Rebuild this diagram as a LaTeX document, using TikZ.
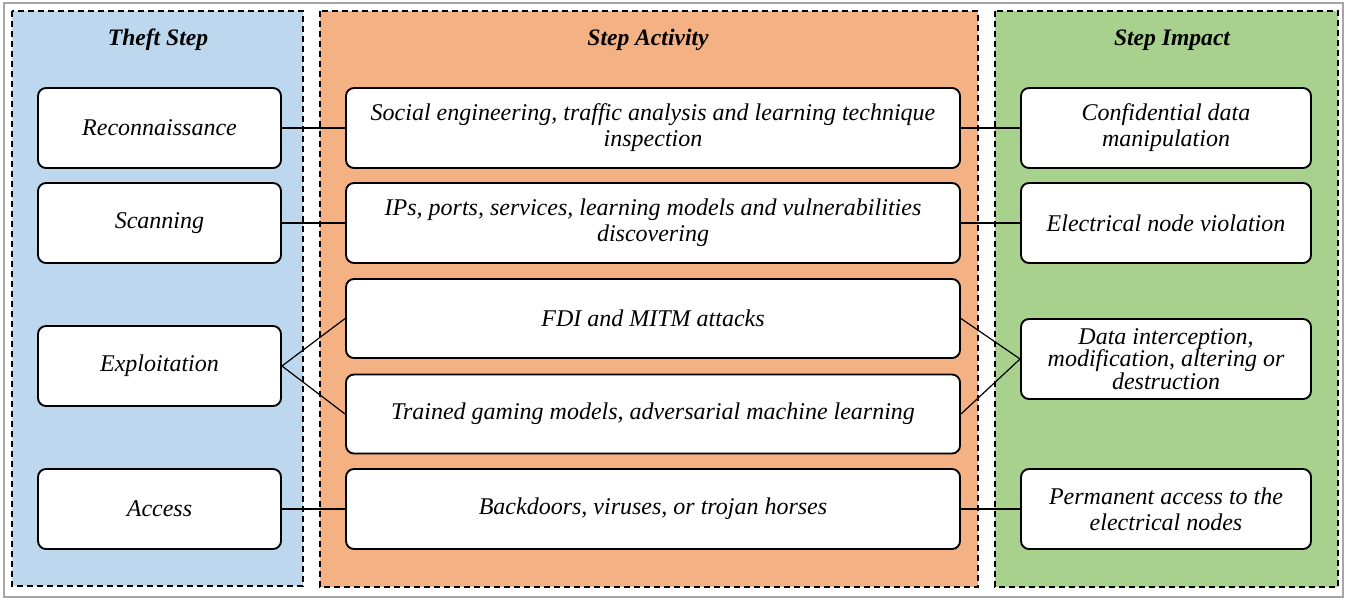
\documentclass[tikz,border=0pt]{standalone}
\usepackage{fontspec}
\setmainfont{Liberation Serif}
\definecolor{pblue}{HTML}{BDD7EE}
\definecolor{porange}{HTML}{F4B183}
\definecolor{pgreen}{HTML}{A9D18E}
\begin{document}
\begin{tikzpicture}[x=0.75pt,y=-0.75pt,
  panel/.style={draw=black,line width=0.9pt,dash pattern=on 4.5pt off 3pt},
  box/.style={draw=black,fill=white,line width=1.4pt,rounded corners=6pt,align=center,
    font=\fontsize{18}{19.5}\selectfont\itshape,inner sep=2pt},
  lbox/.style={box,minimum width=182.25pt,minimum height=60pt},
  mbox/.style={box,minimum width=460.5pt,minimum height=60pt},
  rbox/.style={box,minimum width=217.5pt,minimum height=60pt},
  title/.style={font=\fontsize{17.7}{19}\selectfont\bfseries\itshape},
  link/.style={draw=black,line width=0.9pt}]
\useasboundingbox (0,0) rectangle (1348,600);
\draw[gray!70,line width=0.8pt] (4,3) rectangle (1343,597);
% panels
\draw[panel,fill=pblue] (12,11) rectangle (303,586);
\draw[panel,fill=porange] (320,11) rectangle (978,587);
\draw[panel,fill=pgreen] (995,11) rectangle (1338,587);
% titles
\node[title] (t1) at (158,40) {Theft Step};
\node[title] (t2) at (648,40) {Step Activity};
\node[title] (t3) at (1172,40) {Step Impact};
% left column
\node[lbox] (l1) at (159.5,128) {Reconnaissance};
\node[lbox] (l2) at (159.5,223) {Scanning};
\node[lbox] (l3) at (159.5,366) {Exploitation};
\node[lbox] (l4) at (159.5,509) {Access};
% middle column
\node[mbox] (m1) at (653,128) {Social engineering, traffic analysis and learning technique\\inspection};
\node[mbox] (m2) at (653,223) {IPs, ports, services, learning models and vulnerabilities\\discovering};
\node[mbox,minimum height=59.25pt] (m3) at (653,318.5) {FDI and MITM attacks};
\node[mbox,minimum height=59.25pt] (m4) at (653,414) {Trained gaming models, adversarial machine learning};
\node[mbox] (m5) at (653,509) {Backdoors, viruses, or trojan horses};
% right column
\node[rbox] (r1) at (1166,128) {Confidential data\\manipulation};
\node[rbox] (r2) at (1166,223) {Electrical node violation};
\node[rbox,font=\fontsize{18}{17}\selectfont\itshape] (r3) at (1166,359) {Data interception,\\modification, altering or\\destruction};
\node[rbox] (r4) at (1166,509) {Permanent access to the\\electrical nodes};
% links
\draw[link] (l1.east) -- (m1.west);
\draw[link] (m1.east) -- (r1.west);
\draw[link] (l2.east) -- (m2.west);
\draw[link] (m2.east) -- (r2.west);
\draw[link] (l3.east) -- (m3.west);
\draw[link] (l3.east) -- (m4.west);
\draw[link] (m3.east) -- (r3.west);
\draw[link] (m4.east) -- (r3.west);
\draw[link] (l4.east) -- (m5.west);
\draw[link] (m5.east) -- (r4.west);
\end{tikzpicture}
\end{document}
